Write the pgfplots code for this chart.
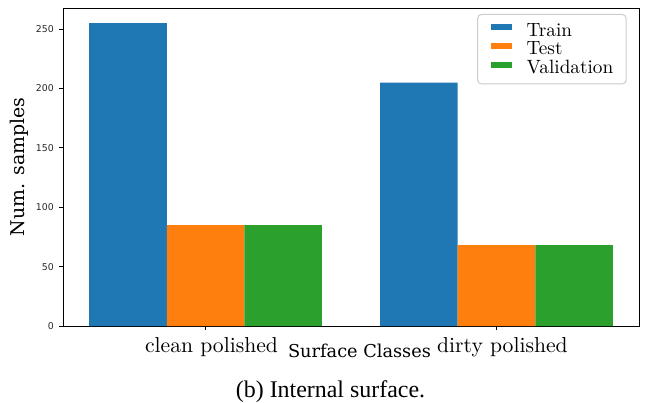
\documentclass[border=0pt]{standalone}
\usepackage{fontspec}
\usepackage{pgfplots}
\pgfplotsset{compat=1.18}
\newfontfamily\djsans{DejaVu Sans}
\newfontfamily\djserif{DejaVu Serif}
\newfontfamily\capfont{Liberation Serif}
\newfontfamily\lmten{lmroman10-regular}[Extension=.otf]
\definecolor{c1}{HTML}{1F77B4}
\definecolor{c2}{HTML}{FF7F0E}
\definecolor{c3}{HTML}{2CA02C}
\begin{document}
\begin{tikzpicture}
\path[use as bounding box] (-63bp,-77bp) rectangle (583bp,326bp);
\begin{axis}[
  at={(0,0)}, anchor=south west,
  scale only axis, width=576bp, height=318bp,
  clip=false,
  xmin=-0.49, xmax=1.49, ymin=0, ymax=267.75,
  axis line style={line width=0.8bp, black},
  tick align=outside, major tick length=4bp,
  tick style={line width=0.8bp, black},
  xtick={0,1}, xticklabels={clean polished, dirty polished},
  ytick={0,50,100,150,200,250},
  xtick pos=bottom, ytick pos=left,
  /pgf/number format/assume math mode=true,
  yticklabel style={font=\djsans\fontsize{9.4}{10}\selectfont, inner sep=0pt, anchor=east, xshift=-5bp, text=black!85},
  xticklabel style={font=\lmten\fontsize{21.7}{24}\selectfont, inner sep=0pt, anchor=base, yshift=-22.7bp, xshift=6bp},
  xlabel={Surface Classes},
  every axis x label/.style={at={(axis description cs:0.5148,0)}, anchor=base, yshift=-31bp, font=\djserif\fontsize{17.8}{19}\selectfont, inner sep=0pt},
  ylabel={Num. samples},
  every axis y label/.style={at={(axis description cs:-0.066,0.5)}, rotate=90, anchor=base, font=\djserif\fontsize{19}{20}\selectfont, inner sep=0pt},
  legend cell align=left,
  legend image code/.code={\fill[#1, sharp corners] (0bp,0bp) rectangle (21.7bp,6bp);},
  legend style={at={(axis description cs:1,1)}, anchor=north east, xshift=-12.3bp, yshift=-6bp,
    draw=black!20, line width=1bp, rounded corners=4bp, fill=white,
    inner xsep=13bp, inner ysep=8.5bp, row sep=4.3bp,
    font=\lmten\fontsize{19.3}{20}\selectfont,
    nodes={inner sep=0pt},
    /tikz/every odd column/.append style={column sep=14.3bp}},
]
\addplot[ybar, bar width=0.2667, bar shift=0pt, fill=c1, draw=none] coordinates {(-0.2667,255) (0.7333,205)};
\addplot[ybar, bar width=0.2667, bar shift=0pt, fill=c2, draw=none] coordinates {(0,85) (1,68)};
\addplot[ybar, bar width=0.2667, bar shift=0pt, fill=c3, draw=none] coordinates {(0.2667,85) (1.2667,68)};
\legend{Train, Test, Validation}
\node[anchor=base, font=\capfont\fontsize{24}{26}\selectfont, inner sep=0pt] at (axis description cs:0.4644,0) [yshift=-71bp] {(b) Internal surface.};
\end{axis}
\end{tikzpicture}
\end{document}
